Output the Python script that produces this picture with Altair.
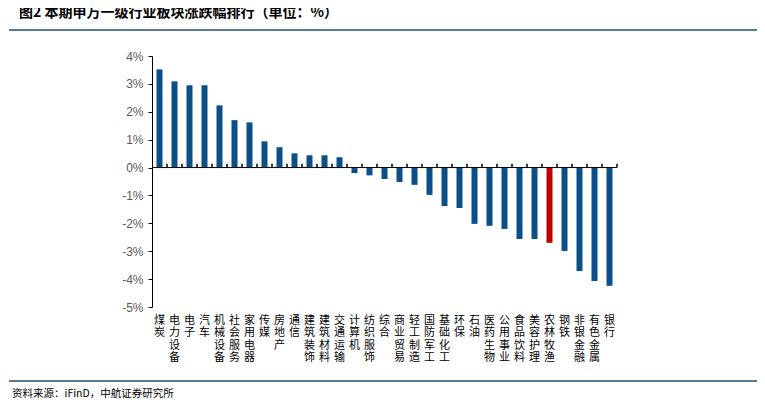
import altair as alt
import pandas as pd

industries = ["煤炭", "电力设备", "电子", "汽车", "机械设备", "社会服务", "家用电器", "传媒",
              "房地产", "通信", "建筑装饰", "建筑材料", "交通运输", "计算机", "纺织服饰", "综合",
              "商业贸易", "轻工制造", "国防军工", "基础化工", "环保", "石油", "医药生物", "公用事业",
              "食品饮料", "美容护理", "农林牧渔", "钢铁", "非银金融", "有色金属", "银行"]
changes = [3.52, 3.09, 2.95, 2.95, 2.23, 1.70, 1.62, 0.94,
           0.73, 0.51, 0.44, 0.44, 0.37, -0.20, -0.28, -0.41,
           -0.52, -0.62, -0.98, -1.38, -1.45, -2.02, -2.09, -2.20,
           -2.56, -2.56, -2.70, -2.99, -3.71, -4.07, -4.24]
highlight = "农林牧渔"
y_ticks = [-5, -4, -3, -2, -1, 0, 1, 2, 3, 4]

title_text = "图2  本期申万一级行业板块涨跌幅排行（单位：%）"
source_text = "资料来源：iFinD，中航证券研究所"

df = pd.DataFrame({"industry": industries, "change": changes})

W, H = 465, 251
Y_MIN, Y_MAX = -5, 4
TICK_LEN = 0.14  # category tick length on the zero line, in axis units
STEP = W / len(industries)

BLUE = "#0B4F88"
RED = "#C00000"
CJK = "Noto Sans CJK SC"

xscale = alt.Scale(paddingInner=0, paddingOuter=0)
yaxis = alt.Axis(values=y_ticks, labelExpr="datum.value + '%'", title=None,
                 grid=False, domainColor="black", tickColor="black",
                 tickSize=4, labelPadding=5, labelFontSize=12,
                 labelOverlap=False, tickCount=10,
                 labelColor="#595959", labelFont="Liberation Sans")
yscale = alt.Scale(domain=[Y_MIN, Y_MAX], nice=False, zero=True)

xaxis = alt.Axis(orient="bottom", domain=False, ticks=False, title=None,
                 labelExpr="split(datum.label, '')", labelAngle=0,
                 labelPadding=7, labelBaseline="top", labelAlign="center",
                 labelLineHeight=12.5, labelFontSize=11, labelFont=CJK,
                 labelOverlap=False, labelColor="black", grid=False)

bars = alt.Chart(df).mark_bar(width=alt.RelativeBandSize(0.4)).encode(
    x=alt.X("industry:N", sort=None, scale=xscale, axis=xaxis),
    y=alt.Y("change:Q", scale=yscale, axis=yaxis),
    color=alt.condition(alt.datum.industry == highlight, alt.value(RED), alt.value(BLUE)),
)

one = pd.DataFrame({"k": [0]})
zero_line = alt.Chart(one).mark_rule(color="black", strokeWidth=1).encode(
    y=alt.YDatum(0, scale=yscale, axis=yaxis))

# category boundary ticks on the zero line (thin bars shifted half a band)
ticks = alt.Chart(df).mark_bar(width=1.5, xOffset=STEP / 2, color="#000000",
                               opacity=1).encode(
    x=alt.X("industry:N", sort=None, scale=xscale, axis=xaxis),
    y=alt.YDatum(0, scale=yscale, axis=yaxis),
    y2=alt.Y2Datum(TICK_LEN),
)

top_line = alt.Chart(one).mark_rule(color="#1F4E79", strokeWidth=1.5).encode(
    x=alt.value(-143), x2=alt.value(605), y=alt.value(-26))
bottom_line = alt.Chart(one).mark_rule(color="#1F4E79", strokeWidth=1.5).encode(
    x=alt.value(-143), x2=alt.value(605), y=alt.value(325))
header = alt.Chart(one).mark_text(align="left", baseline="middle", font=CJK,
                                  fontSize=14, fontWeight="bold", color="black").encode(
    x=alt.value(-133), y=alt.value(-43), text=alt.value(title_text))
footer = alt.Chart(one).mark_text(align="left", baseline="middle", font=CJK,
                                  fontSize=10.5, color="black").encode(
    x=alt.value(-140), y=alt.value(338), text=alt.value(source_text))

chart = alt.layer(bars, zero_line, ticks, top_line, bottom_line, header, footer).properties(
    width=W, height=H,
    autosize=alt.AutoSizeParams(type="none"),
    padding={"left": 144, "top": 48, "right": 140, "bottom": 93},
).configure_view(stroke=None)

chart.save("out.html", embed_options={"renderer": "svg", "actions": False})
